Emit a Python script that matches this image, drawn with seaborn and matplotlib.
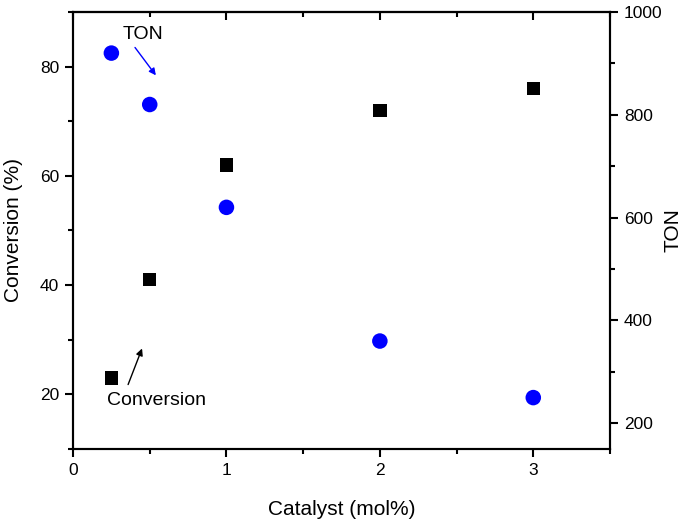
import matplotlib
matplotlib.use("Agg")
import matplotlib.pyplot as plt
from matplotlib.ticker import MultipleLocator
import seaborn as sns
import pandas as pd

catalyst = [0.25, 0.5, 1, 2, 3]
conversion = [23, 41, 62, 72, 76]
ton = [920, 820, 620, 360, 250]

sns.set_style("ticks")
plt.rcParams['font.family'] = ['Liberation Sans', 'DejaVu Sans']
plt.rcParams.update({
    "text.color": "black",
    "axes.labelcolor": "black",
    "axes.edgecolor": "black",
    "xtick.color": "black",
    "ytick.color": "black",
})

df = pd.DataFrame({"catalyst": catalyst, "conversion": conversion, "ton": ton})

fig = plt.figure(figsize=(6.85, 5.2), dpi=100)
ax = fig.add_axes([0.1066, 0.1365, 0.7839, 0.8405])
ax2 = ax.twinx()

sns.scatterplot(data=df, x="catalyst", y="conversion", ax=ax,
                marker="s", s=95, color="black", edgecolor="none", zorder=3)
sns.scatterplot(data=df, x="catalyst", y="ton", ax=ax2,
                marker="o", s=125, color="blue", edgecolor="none", zorder=3)

ax.set_xlim(0, 3.5)
ax.set_ylim(10, 90)
ax2.set_ylim(150, 1000)

ax.xaxis.set_major_locator(MultipleLocator(1))
ax.xaxis.set_minor_locator(MultipleLocator(0.5))
ax.yaxis.set_major_locator(MultipleLocator(20))
ax.yaxis.set_minor_locator(MultipleLocator(10))
ax2.yaxis.set_major_locator(MultipleLocator(200))
ax2.yaxis.set_minor_locator(MultipleLocator(100))

for a in (ax, ax2):
    for sp in a.spines.values():
        sp.set_linewidth(1.5)
        sp.set_visible(True)

ax.tick_params(axis="both", which="major", direction="out", length=6,
               width=1.5, labelsize=12.5, pad=4)
ax.tick_params(axis="both", which="minor", direction="out", length=3.5, width=1.5)
ax2.tick_params(axis="y", which="major", direction="out", length=6, width=1.5,
                labelsize=12.5, pad=4)
ax2.tick_params(axis="y", which="minor", direction="out", length=3.5, width=1.5)

# top ticks point inward
top = ax.secondary_xaxis("top")
top.xaxis.set_major_locator(MultipleLocator(1))
top.xaxis.set_minor_locator(MultipleLocator(0.5))
top.tick_params(which="major", direction="in", length=6, width=1.5, labeltop=False)
top.tick_params(which="minor", direction="in", length=3.5, width=1.5)
top.spines["top"].set_linewidth(1.5)

ax.set_xlabel("Catalyst (mol%)", fontsize=15, labelpad=16)
ax.set_ylabel("Conversion (%)", fontsize=15, labelpad=12)
ax2.set_ylabel("TON", fontsize=15, labelpad=1)

# annotations
ax.text(0.457, 85.9, "TON", fontsize=14, ha="center", va="center")
ax.annotate("", xy=(0.54, 78.4), xytext=(0.404, 83.5),
            arrowprops=dict(arrowstyle="-|>", color="blue", lw=1,
                            mutation_scale=10, shrinkA=0, shrinkB=0))
ax.text(0.545, 18.9, "Conversion", fontsize=14, ha="center", va="center")
ax.annotate("", xy=(0.45, 28.4), xytext=(0.359, 21.8),
            arrowprops=dict(arrowstyle="-|>", color="black", lw=1,
                            mutation_scale=10, shrinkA=0, shrinkB=0))

fig.savefig("out.png", dpi=100)
